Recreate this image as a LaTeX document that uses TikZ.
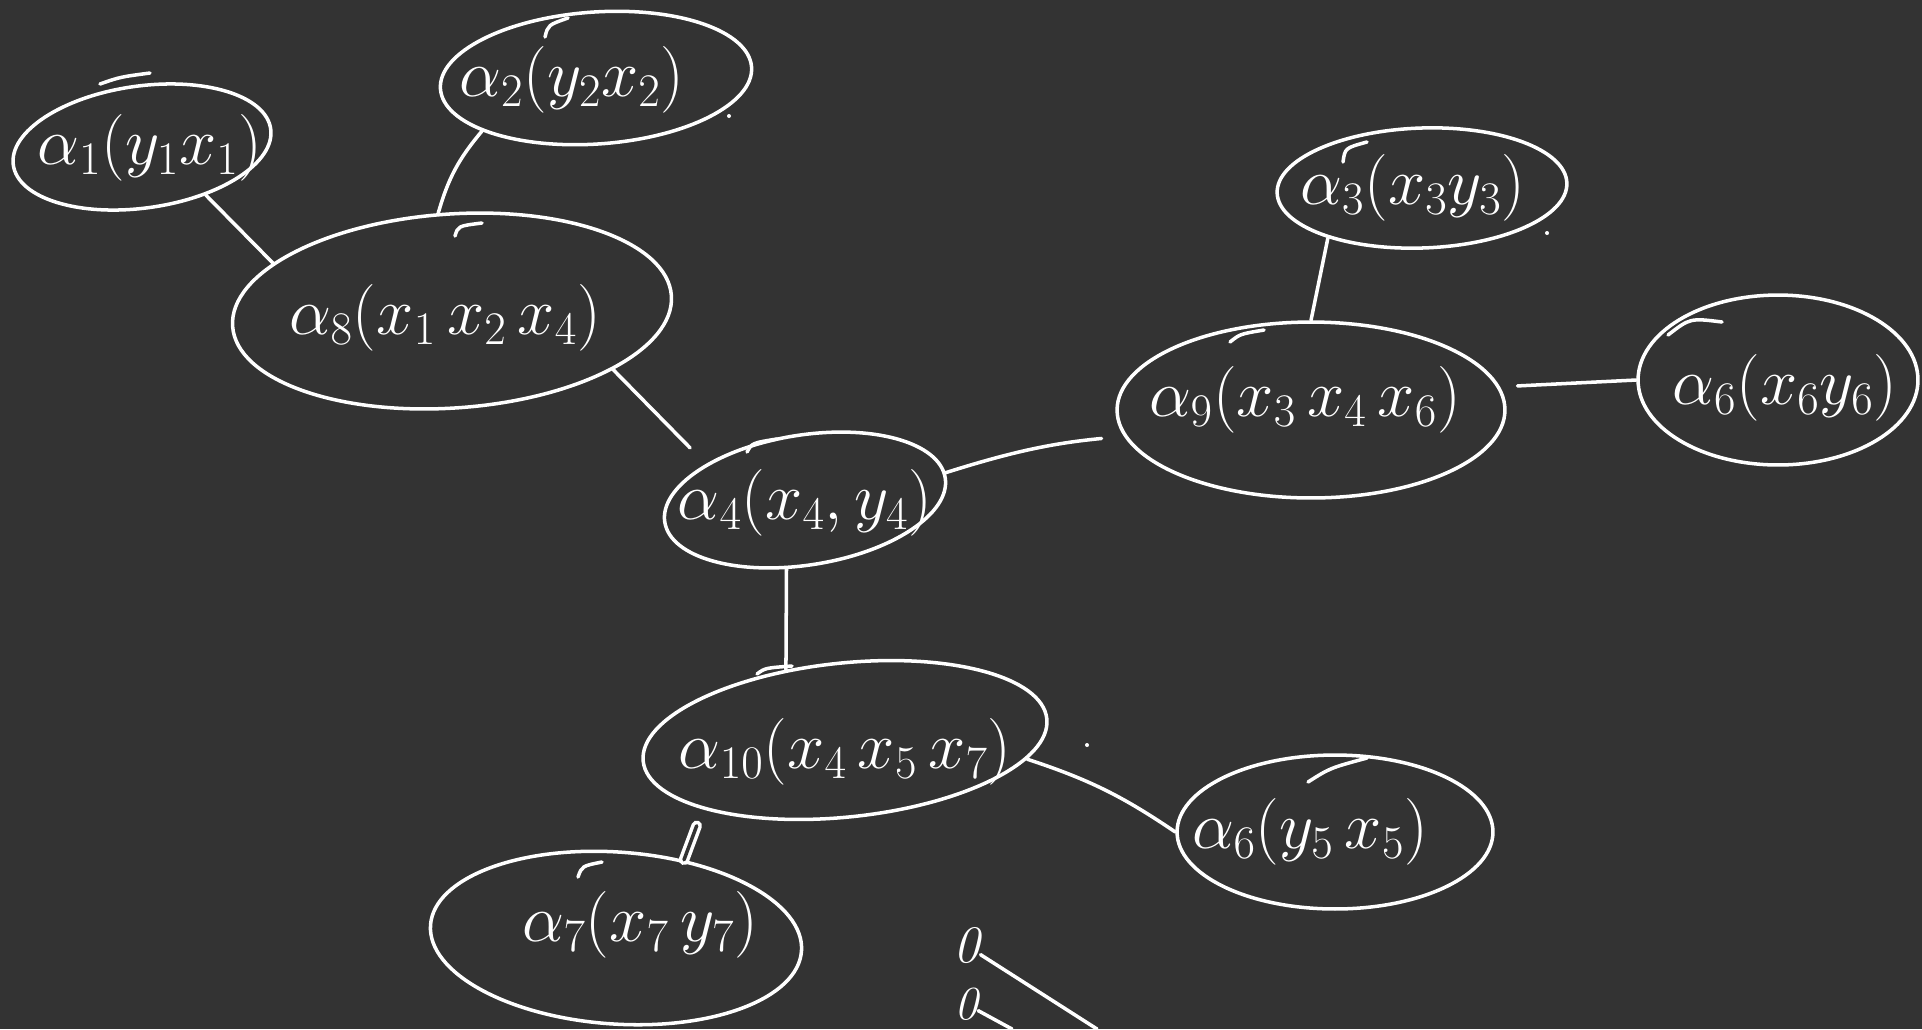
\RequirePackage{fix-cm}
\documentclass[tikz,border=0pt]{standalone}
\usetikzlibrary{shapes.geometric}
\definecolor{bg}{HTML}{333333}
\begin{document}
\begin{tikzpicture}[x=0.02cm,y=-0.02cm,
  ell/.style n args={2}{ellipse, draw=white, line width=2pt, minimum width=#1*0.04cm, minimum height=#2*0.04cm, inner sep=0pt},
  lab/.style={text=white, font=\fontsize{38}{40}\selectfont, inner sep=0pt},
  zero/.style={text=white, inner sep=0pt},
  link/.style={draw=white, line width=2pt, line cap=round},
  tail/.style={draw=white, line width=2pt, line cap=round},
  dot/.style={fill=white}]
\fill[bg] (0,0) rectangle (1922,1029);
\useasboundingbox (0,0) rectangle (1922,1029);

% ellipses
\node[ell={130}{61}, rotate=8] (a1) at (142,147) {};
\node[ell={156}{66}, rotate=4] (a2) at (596,78) {};
\node[ell={220}{97}, rotate=4] (a8) at (452,311) {};
\node[ell={142}{65}, rotate=9] (a4) at (805,500) {};
\node[ell={145}{60}, rotate=2] (a3) at (1422,188) {};
\node[ell={194}{88}] (a9) at (1311,410) {};
\node[ell={140}{85}] (a6) at (1778,380) {};
\node[ell={203}{77}, rotate=6] (a10) at (845,740) {};
\node[ell={158}{77}] (a5) at (1335,832) {};
\node[ell={186}{86}, rotate=-4] (a7) at (616,938) {};

% pen overlaps at the tops of the ellipses
\draw[tail] (100,84) .. controls (120,77) .. (150,73);
\draw[tail] (545,37) .. controls (548,25) .. (568,18);
\draw[tail] (455,236) .. controls (458,226) .. (482,223);
\draw[tail] (747,452) .. controls (752,443) .. (777,439);
\draw[tail] (1343,162) .. controls (1345,148) .. (1367,142);
\draw[tail] (1230,342) .. controls (1240,334) .. (1264,330);
\draw[tail] (1668,335) .. controls (1690,318) .. (1722,322);
\draw[tail] (757,674) .. controls (765,668) .. (792,666);
\draw[tail] (1308,782) .. controls (1330,768) .. (1367,758);
\draw[tail] (578,877) .. controls (582,866) .. (602,862);

% labels
\node[lab] (t1) at (150,148) {$\alpha_1(y_1x_1)$};
\node[lab] (t2) at (572,80) {$\alpha_2(y_2x_2)$};
\node[lab] (t8) at (445,318) {$\alpha_8(x_1\,x_2\,x_4)$};
\node[lab] (t4) at (805,503) {$\alpha_4(x_4,y_4)$};
\node[lab] (t3) at (1413,188) {$\alpha_3(x_3y_3)$};
\node[lab] (t9) at (1305,400) {$\alpha_9(x_3\,x_4\,x_6)$};
\node[lab] (t6) at (1785,388) {$\alpha_6(x_6y_6)$};
\node[lab] (t10) at (845,752) {$\alpha_{10}(x_4\,x_5\,x_7)$};
\node[lab] (t5) at (1310,832) {$\alpha_6(y_5\,x_5)$};
\node[lab] (t7) at (640,925) {$\alpha_7(x_7\,y_7)$};

% connectors
\draw[link] (a1.-45) -- (a8.161);
\draw[link] (a8.94) to[bend left=12] (a2.201);
\draw[link, shorten >=0.45cm] (a8.-24) -- (a4.151);
\draw[link, shorten >=0.45cm] (a4.2) to[bend left=6] (a9.188);
\draw[link] (a9.90) -- (a3.206);
\draw[link, shorten <=0.35cm] (a9.7) -- (a6.180);
\draw[link] (a4.-114) -- (a10.124);
\draw[link] (a10.-12) to[bend left=8] (a5.180);
\draw[link, double=bg, double distance=2pt, shorten <=0.35cm] (a10.-160) -- (a7.53);

% small zeros at the bottom
\node[zero, font=\fontsize{30}{30}\selectfont\itshape] (z1) at (967,946) {0};
\node[zero, font=\fontsize{27}{27}\selectfont\itshape] (z2) at (966,1004) {0};
\coordinate (e1) at (1097,1029);
\coordinate (e2) at (1012,1029);
\draw[link] (z1) -- (e1);
\draw[link] (z2) -- (e2);

% stray dots
\fill[dot] (1087,745) circle (2);
\fill[dot] (729,116) circle (2);
\fill[dot] (1547,233) circle (2);
\end{tikzpicture}
\end{document}
